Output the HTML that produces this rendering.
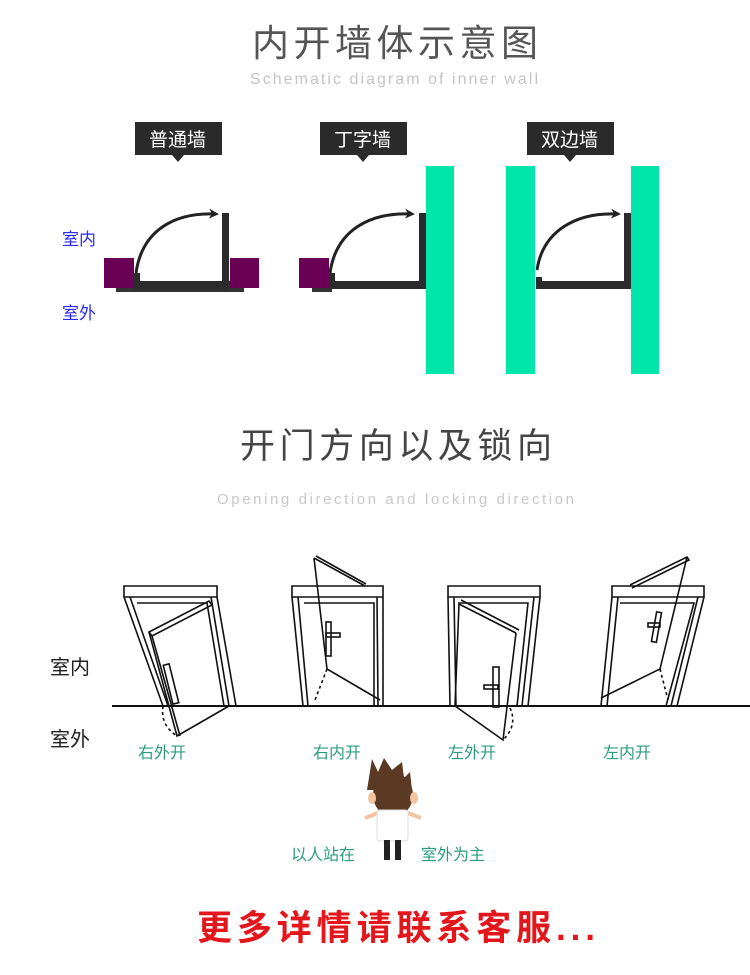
<!DOCTYPE html>
<html><head><meta charset="utf-8"><style>
html,body{margin:0;padding:0;background:#fff}
svg{display:block}
text{font-family:"Liberation Sans","Noto Sans CJK SC",sans-serif}
</style></head><body>
<svg width="750" height="975" viewBox="0 0 750 975" xmlns="http://www.w3.org/2000/svg">
<defs>
<marker id="ah" markerWidth="10" markerHeight="10" refX="7" refY="5" orient="auto" markerUnits="userSpaceOnUse"><path d="M0,0 L10,5 L0,10 L3,5z" fill="#222"/></marker>
</defs>
<text x="252" y="56" font-size="37" fill="#555" textLength="286" lengthAdjust="spacing">内开墙体示意图</text>
<text x="250" y="84" font-size="16" fill="#c4c4c4" textLength="288" lengthAdjust="spacing" font-family="DejaVu Sans">Schematic diagram of inner wall</text>
<text x="240" y="458" font-size="35" fill="#444" textLength="312" lengthAdjust="spacing">开门方向以及锁向</text>
<text x="217" y="504" font-size="15" fill="#c8c8c8" textLength="357" lengthAdjust="spacing" font-family="DejaVu Sans">Opening direction and locking direction</text>

<g fill="#2b2b2b">
<rect x="135" y="122" width="87" height="33"/><path d="M172,155 L184,155 L178,162z"/>
<rect x="320" y="122" width="87" height="33"/><path d="M357,155 L369,155 L363,162z"/>
<rect x="527" y="122" width="87" height="33"/><path d="M564,155 L576,155 L570,162z"/>
</g>
<g fill="#fff" font-size="19">
<text x="149" y="146">普通墙</text><text x="334" y="146">丁字墙</text><text x="541" y="146">双边墙</text>
</g>
<g fill="#00e5aa">
<rect x="426" y="166" width="28" height="208"/><rect x="506" y="166" width="29" height="208"/><rect x="631" y="166" width="28" height="208"/>
</g>
<rect x="116" y="288" width="128" height="4" fill="#333"/>
<rect x="104" y="258" width="30" height="30" fill="#6a0055"/>
<rect x="230" y="258" width="29" height="30" fill="#6a0055"/>
<g fill="#2b2b2b">
<rect x="134" y="281" width="96" height="8"/><rect x="134" y="273" width="6" height="10"/><rect x="222" y="213" width="7" height="76"/>
<rect x="312" y="288" width="20" height="4" fill="#333"/>
<rect x="329" y="281" width="97" height="8"/><rect x="329" y="273" width="6" height="10"/><rect x="419" y="213" width="7" height="76"/>
<rect x="536" y="281" width="95" height="8"/><rect x="536" y="277" width="6" height="10"/><rect x="624" y="213" width="7" height="76"/>
</g>
<rect x="299" y="258" width="30" height="30" fill="#6a0055"/>
<g fill="none" stroke="#222" stroke-width="3" marker-end="url(#ah)">
<path d="M136,273 C142,230 175,212 216,214"/>
<path d="M330,273 C336,230 370,212 412,214"/>
<path d="M537,270 C543,230 577,212 618,214"/>
</g>
<text x="62" y="245" font-size="17" fill="#2a2aff">室内</text>
<text x="62" y="319" font-size="17" fill="#2a2aff">室外</text>

<text x="50" y="674" font-size="20" fill="#222">室内</text>
<text x="50" y="746" font-size="20" fill="#222">室外</text>
<line x1="112" y1="706" x2="750" y2="706" stroke="#111" stroke-width="2"/>
<g fill="none" stroke="#111" stroke-width="1.6">
<path d="M124,597 L124,586 L217,586 L217,597 Z"/>
<path d="M124,597 L163,706 M217,597 L236,706 M130,597 L168,706 M211,597 L229,706"/>
<path d="M137,603 L207,603 L224,706"/>
<path d="M149,632 L209,601 L212,605 L152,636 Z"/>
<path d="M149,632 L177,736 L229,706"/>
<path d="M152,636 L180,736"/>
<path d="M163,706 Q160,725 177,736" stroke-dasharray="3,3"/>
<rect x="168" y="664" width="6" height="40" transform="rotate(-14 171 684)"/>
<path d="M292,597 L292,586 L383,586 L383,597 Z"/>
<path d="M292,597 L303,706 M298,597 L308,706 M383,597 L383,706 M377,597 L378,706"/>
<path d="M304,603 L374,603 L374,706"/>
<path d="M314,558 L327,669 L380,700 M314,558 L365,586 M316,556 L366,584"/>
<path d="M327,669 L315,700" stroke-dasharray="3,3"/>
<rect x="326" y="622" width="5" height="34"/><rect x="326" y="633" width="14" height="4"/>
<path d="M448,597 L448,586 L540,586 L540,597 Z"/>
<path d="M448,597 L450,706 M454,597 L456,706 M540,597 L528,706 M534,597 L522,706"/>
<path d="M458,603 L528,603 L517,706"/>
<path d="M459,604 L516,633 M461,600 L519,630"/>
<path d="M459,604 L455,706 L503,740 L516,633"/>
<path d="M510,708 Q518,725 503,740" stroke-dasharray="3,3"/>
<rect x="493" y="667" width="6" height="40"/><rect x="484" y="685" width="14" height="4"/>
<path d="M612,597 L612,586 L704,586 L704,597 Z"/>
<path d="M612,597 L601,706 M618,597 L607,706 M704,597 L677,706 M698,597 L671,706"/>
<path d="M620,603 L694,603 L666,706"/>
<path d="M630,585 L687,557 L689,560 L632,588"/>
<path d="M687,557 L660,669 L601,698"/>
<path d="M660,669 L668,700" stroke-dasharray="3,3"/>
<rect x="654" y="612" width="5" height="30" transform="rotate(10 656 627)"/><rect x="648" y="623" width="12" height="4"/>
</g>
<g fill="#2a9d80" font-size="16">
<text x="138" y="758">右外开</text><text x="313" y="758">右内开</text><text x="448" y="758">左外开</text><text x="603" y="758">左内开</text>
<text x="291" y="860">以人站在</text><text x="421" y="860">室外为主</text>
</g>
<path d="M367,790 L372,759 L378,772 L384,758 L392,770 L402,762 L404,778 L410,772 L412,790 Z" fill="#5a3a24"/>
<ellipse cx="393" cy="795" rx="20" ry="22" fill="#5a3a24"/>
<ellipse cx="372" cy="798" rx="4" ry="6" fill="#f2c4a0"/><ellipse cx="414" cy="798" rx="4" ry="6" fill="#f2c4a0"/>
<path d="M365,818 L378,813 M421,818 L408,813" stroke="#f2c4a0" stroke-width="4"/>
<rect x="377" y="810" width="31" height="31" rx="3" fill="#fff" stroke="#ddd"/>
<rect x="384" y="840" width="6" height="20" fill="#222"/><rect x="395" y="840" width="6" height="20" fill="#222"/>
<text x="197" y="940" font-size="35" font-weight="bold" fill="#e3171b" textLength="398" lengthAdjust="spacing">更多详情请联系客服...</text>
</svg>
</body></html>
